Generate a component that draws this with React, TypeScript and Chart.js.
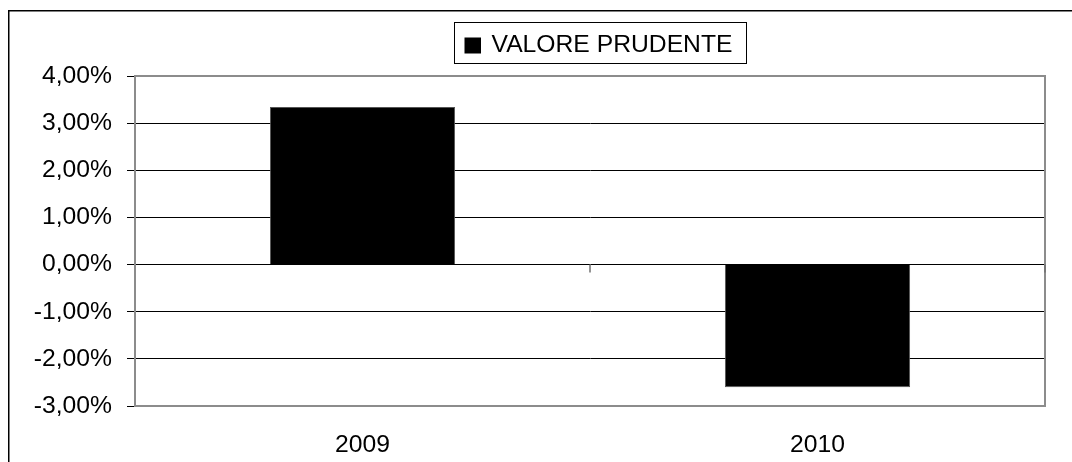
import React, { useEffect, useRef } from "react";
import { Chart, registerables } from "chart.js";

Chart.register(...registerables);

const categories = ["2009", "2010"];
const seriesLabel = "VALORE PRUDENTE";
const seriesValues = [3.34, -2.6];
const yMin = -3;
const yMax = 4;
const yStep = 1;

const FONT = '"Liberation Sans", Arial, sans-serif';
const FS = 24.7;

const fmt = (v: number) => v.toFixed(2).replace(".", ",") + "%";

const decorPlugin = {
  id: "decor",
  beforeDraw(chart: any) {
    const ctx = chart.ctx;
    ctx.save();
    ctx.fillStyle = "#ffffff";
    ctx.fillRect(0, 0, chart.width, chart.height);
    ctx.fillStyle = "#000000";
    ctx.fillRect(8, 10, chart.width - 8, 1.5);
    ctx.fillRect(8, 10, 1.5, chart.height - 10);
    ctx.restore();
  },
  afterDraw(chart: any) {
    const ctx = chart.ctx;
    const { left, right, top, bottom } = chart.chartArea;
    const x = chart.scales.x;
    const y = chart.scales.y;
    ctx.save();
    // plot frame (top, right, bottom)
    ctx.strokeStyle = "#8c8c8c";
    ctx.lineWidth = 2;
    ctx.beginPath();
    ctx.moveTo(left, top);
    ctx.lineTo(right, top);
    ctx.lineTo(right, bottom);
    ctx.lineTo(left, bottom);
    ctx.stroke();
    // category axis ticks at zero line
    const y0 = y.getPixelForValue(0);
    ctx.strokeStyle = "#707070";
    ctx.lineWidth = 1.5;
    const n = chart.data.labels.length;
    for (let i = 1; i <= n; i++) {
      const px = left + ((right - left) * i) / n;
      ctx.beginPath();
      ctx.moveTo(px, y0);
      ctx.lineTo(px, y0 + 8);
      ctx.stroke();
    }
    // legend
    const bx = 454.5, by = 22.5, bw = 292, bh = 41;
    ctx.strokeStyle = "#000000";
    ctx.lineWidth = 1;
    ctx.strokeRect(bx, by, bw, bh);
    ctx.fillStyle = "#000000";
    ctx.fillRect(464.5, 37.5, 16.5, 16);
    ctx.font = `${FS}px ${FONT}`;
    ctx.textBaseline = "alphabetic";
    ctx.textAlign = "left";
    ctx.fillText(chart.data.datasets[0].label, 491.5, 51.7);
    ctx.restore();
  },
};

export default function App() {
  const ref = useRef<HTMLCanvasElement | null>(null);
  useEffect(() => {
    if (!ref.current) return;
    const chart = new Chart(ref.current, {
      type: "bar",
      data: {
        labels: categories,
        datasets: [
          {
            label: seriesLabel,
            data: seriesValues,
            backgroundColor: "#000000",
            borderColor: "#555555",
            borderWidth: 1,
            barPercentage: 0.407,
            categoryPercentage: 1,
          },
        ],
      },
      options: {
        animation: false,
        responsive: false,
        maintainAspectRatio: false,
        layout: { padding: { top: 76, right: 27, left: 0, bottom: 0 } },
        plugins: {
          legend: { display: false },
          tooltip: { enabled: false },
        },
        scales: {
          x: {
            type: "category",
            offset: true,
            grid: { display: false, drawTicks: false },
            border: { display: false },
            ticks: {
              color: "#000000",
              font: { family: FONT, size: FS },
              padding: 24,
              maxRotation: 0,
            },
            afterFit: (s: any) => {
              s.height = 56;
            },
          },
          y: {
            min: yMin,
            max: yMax,
            ticks: {
              stepSize: yStep,
              color: "#000000",
              font: { family: FONT, size: FS },
              padding: 15,
              callback: (v: any) => fmt(Number(v)),
            },
            grid: {
              color: "#000000",
              lineWidth: 1,
              tickLength: 8,
              drawTicks: true,
            },
            border: { display: true, color: "#8c8c8c", width: 2 },
            afterFit: (s: any) => {
              s.width = 135;
            },
          },
        },
      },
      plugins: [decorPlugin],
    });
    return () => chart.destroy();
  }, []);
  return (
    <div style={{ position: "absolute", left: 0, top: 0, width: 1072, height: 462 }}>
      <canvas ref={ref} width={1072} height={462} style={{ display: "block" }} />
    </div>
  );
}
